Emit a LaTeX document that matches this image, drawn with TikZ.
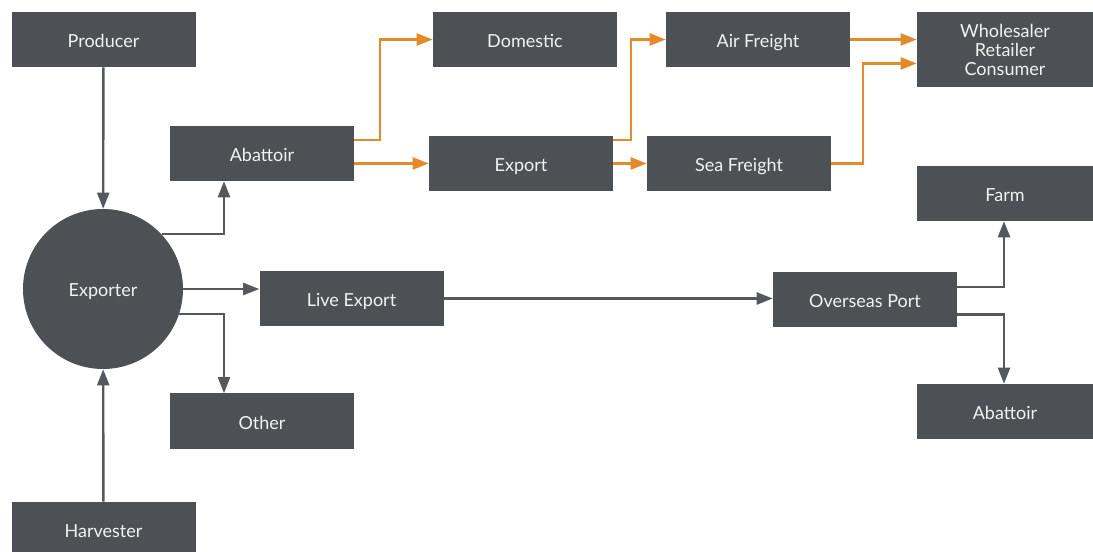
\documentclass[tikz,border=0pt]{standalone}
\usepackage{fontspec}
\setmainfont{Lato}
\usetikzlibrary{arrows.meta}
\definecolor{boxc}{HTML}{4D5055}
\definecolor{linec}{HTML}{55585D}
\definecolor{orc}{HTML}{E38B2A}
\definecolor{txtc}{HTML}{F2F2F2}
\begin{document}
\begin{tikzpicture}[x=0.75pt,y=-0.75pt,
 lbl/.style={text=txtc,font=\fontsize{13.5}{14}\selectfont},
 box/.style={lbl,fill=boxc,minimum width=138pt,minimum height=41.25pt,inner sep=0pt,text height=12pt,text depth=0pt},
 nbox/.style={box,minimum width=132pt},
 mbox/.style={lbl,fill=boxc,minimum width=132pt,minimum height=56.25pt,inner sep=0pt,align=center},
 circ/.style={lbl,circle,fill=boxc,minimum size=120pt,inner sep=0pt,text height=12pt,text depth=0pt},
 garr/.style={draw=linec,line width=1.8pt,-{Triangle[length=12pt,width=9pt]}},
 oarr/.style={draw=orc,line width=1.8pt,-{Triangle[length=12pt,width=9pt]}}]
\useasboundingbox (0,0) rectangle (1093,552);
\node[box] (prod) at (103.5,39.5) {Producer};
\node[box] (dom) at (525,39.5) {Domestic};
\node[box] (air) at (758,39.5) {Air Freight};
\node[mbox] (wrc) at (1005,50) {Wholesaler\\Retailer\\Consumer};
\node[box] (abat) at (262,153.5) {Abattoir};
\node[box] (expo) at (521,163.5) {Export};
\node[box] (sea) at (739,163.5) {Sea Freight};
\node[nbox] (farm) at (1005,193.5) {Farm};
\node[circ] (exp) at (103,289) {Exporter};
\node[box] (live) at (351.5,298.5) {Live Export};
\node[box] (port) at (865,299.5) {Overseas Port};
\node[box] (other) at (262,421) {Other};
\node[nbox] (abat2) at (1005,411.5) {Abattoir};
\node[box] (harv) at (103.5,529.5) {Harvester};
% gray connectors
\draw[garr] (prod) -- (exp);
\draw[garr] (harv) -- (exp);
\draw[garr] (exp.43.4) -| ([xshift=-28.5pt]abat.south);
\draw[garr] (exp.east) -- (exp.east -| live.west);
\draw[garr] (exp.-18.2) -| ([xshift=-28.5pt]other.north);
\draw[garr] (live.east) -- (live.east -| port.west);
\draw[garr] ([yshift=9.4pt]port.east) -| ([xshift=-0.75pt]farm.south);
\draw[garr] ([yshift=-11.25pt]port.east) -| ([xshift=-0.75pt]abat2.north);
% orange connectors
\draw[oarr] ([yshift=10.1pt]abat.east) -- ++(26,0) |- (dom.west);
\draw[oarr] (abat.east |- expo.west) -- (expo.west);
\draw[oarr] ([yshift=17.6pt]expo.east) -- ++(18,0) |- (air.west);
\draw[oarr] (expo.east) -- (sea.west);
\draw[oarr] (air.east) -- (air.east -| wrc.west);
\draw[oarr] (sea.east) -- ++(32,0) |- ([yshift=-10.1pt]wrc.west);
\end{tikzpicture}
\end{document}
